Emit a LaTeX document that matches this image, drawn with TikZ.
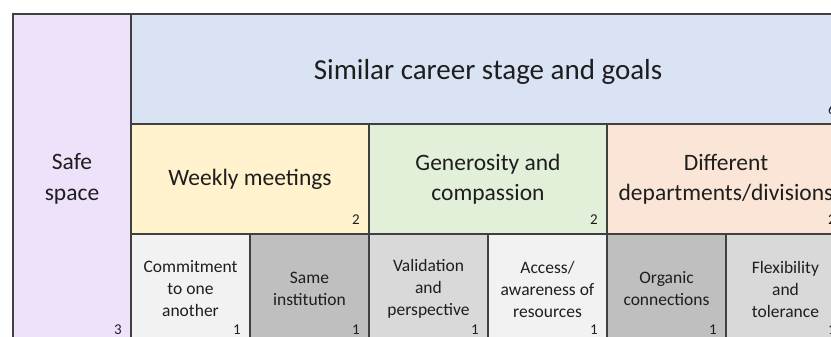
\documentclass[tikz,border=0pt]{standalone}
\usepackage{fontspec}
\setmainfont{Carlito}
\usetikzlibrary{positioning}

\definecolor{linegray}{RGB}{64,64,64}
\definecolor{textgray}{RGB}{30,30,30}
\definecolor{safefill}{RGB}{238,226,250}
\definecolor{careerfill}{RGB}{218,227,243}
\definecolor{weeklyfill}{RGB}{255,242,204}
\definecolor{generosityfill}{RGB}{226,240,217}
\definecolor{departmentsfill}{RGB}{251,229,214}
\definecolor{cellpale}{RGB}{242,242,242}
\definecolor{cellmid}{RGB}{217,217,217}
\definecolor{celldark}{RGB}{191,191,191}

\begin{document}
\begin{tikzpicture}[x=1pt, y=-1pt,
    cell/.style={draw=linegray, line width=1.1pt, outer sep=0pt, inner sep=2pt, align=center, text=textgray},
    bigcell/.style={cell, minimum width=238, minimum height=110, font=\fontsize{23.5}{30}\selectfont},
    smallcell/.style={cell, minimum width=119, minimum height=110, font=\fontsize{17.5}{22}\selectfont},
    count/.style={anchor=south east, inner sep=0pt, xshift=-9pt, yshift=9pt, text=textgray, font=\fontsize{15}{15}\selectfont}]

    % Page
    \useasboundingbox (0,0) rectangle (831,337);
    \clip (0,0) rectangle (831,337);

    % Left column
    \node[cell, anchor=north west, fill=safefill, minimum width=118, minimum height=330,
        font=\fontsize{23.5}{31}\selectfont] (safe) at (13,14) {Safe\\space};

    % Top row
    \node[cell, anchor=north west, fill=careerfill, minimum width=714, minimum height=110,
        text height=28pt, text depth=6pt,
        font=\fontsize{29}{34}\selectfont] (career) at (safe.north east) {Similar career stage and goals};

    % Middle row
    \node[bigcell, anchor=north west, fill=weeklyfill] (weekly) at (career.south west) {Weekly meetings};
    \node[bigcell, right=0pt of weekly, fill=generosityfill] (generosity) {Generosity and\\compassion};
    \node[bigcell, right=0pt of generosity, fill=departmentsfill] (departments) {Different\\departments/divisions};

    % Bottom row
    \node[smallcell, anchor=north west, fill=cellpale] (commitment) at (weekly.south west) {Commitment\\to one\\another};
    \node[smallcell, right=0pt of commitment, fill=celldark] (institution) {Same\\institution};
    \node[smallcell, right=0pt of institution, fill=cellmid] (validation) {Validation\\and\\perspective};
    \node[smallcell, right=0pt of validation, fill=cellpale] (access) {Access/\\awareness of\\resources};
    \node[smallcell, right=0pt of access, fill=celldark] (organic) {Organic\\connections};
    \node[smallcell, right=0pt of organic, fill=cellmid] (flexibility) {Flexibility\\and\\tolerance};

    % Outer frame
    \draw[draw=linegray, line width=1.8pt] (safe.south west) -- (safe.north west) -- (career.north east);

    % Counts
    \node[count] (safe-n) at (safe.south east) {3};
    \node[count] (career-n) at (career.south east) {6};
    \node[count] (weekly-n) at (weekly.south east) {2};
    \node[count] (generosity-n) at (generosity.south east) {2};
    \node[count] (departments-n) at (departments.south east) {2};
    \node[count] (commitment-n) at (commitment.south east) {1};
    \node[count] (institution-n) at (institution.south east) {1};
    \node[count] (validation-n) at (validation.south east) {1};
    \node[count] (access-n) at (access.south east) {1};
    \node[count] (organic-n) at (organic.south east) {1};
    \node[count] (flexibility-n) at (flexibility.south east) {1};

\end{tikzpicture}
\end{document}
